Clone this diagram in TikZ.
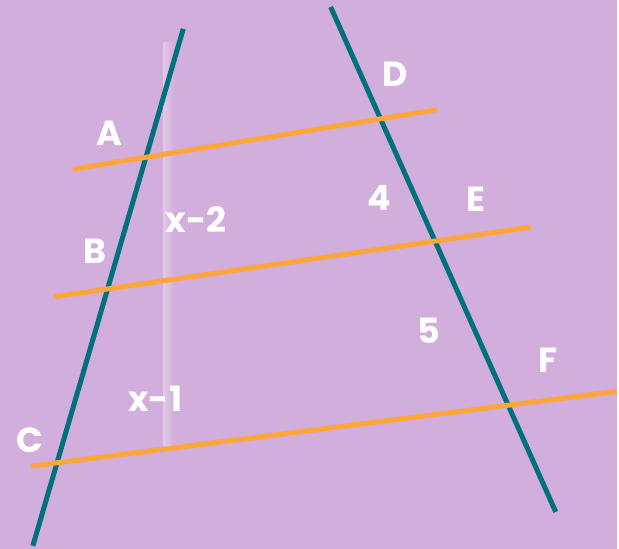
\documentclass[tikz,border=0pt]{standalone}
\usepackage{fontspec}
\setmainfont{Poppins}
\definecolor{bgPurple}{HTML}{D2AEDC}
\definecolor{lineTeal}{HTML}{00717A}
\definecolor{lineOrange}{HTML}{FDA63A}
\begin{document}
\begin{tikzpicture}[x=1pt, y=-1pt,
    transversal/.style={draw=lineTeal, line width=5pt},
    parallel/.style={draw=lineOrange, line width=5pt},
    lbl/.style={text=white, font=\fontsize{35}{40}\selectfont\bfseries, inner sep=0pt},
  ]
  % background (also fixes the bounding box, 1px = 1pt)
  \fill[bgPurple] (0,0) rectangle (619,551);
  % faint highlight strip behind everything
  \shade[left color=white!32!bgPurple, right color=bgPurple] (164,43) rectangle (175,448);

  % end points of the two transversals
  \coordinate (tealLtop) at (184,29);  \coordinate (tealLbot) at (33,548);
  \coordinate (tealRtop) at (332,7);   \coordinate (tealRbot) at (558,514);
  % end points of the three parallels
  \coordinate (par1L) at (73,170);     \coordinate (par1R) at (439,110);
  \coordinate (par2L) at (54,298);     \coordinate (par2R) at (533,228);
  \coordinate (par3L) at (31,468);     \coordinate (par3R) at (619,393);

  % transversals below, parallels on top
  \draw[transversal] (tealLtop) -- (tealLbot);
  \draw[transversal] (tealRtop) -- (tealRbot);
  \draw[parallel] (par1L) -- (par1R);
  \draw[parallel] (par2L) -- (par2R);
  \draw[parallel] (par3L) -- (par3R);

  % point labels
  \node[lbl] (labA) at (110,134) {A};
  \node[lbl] (labB) at (95,252) {B};
  \node[lbl] (labC) at (30,442) {C};
  \node[lbl] (labD) at (397,75) {D};
  \node[lbl] (labE) at (478,200) {E};
  \node[lbl] (labF) at (550,362) {F};

  % segment lengths
  \node[lbl] (lenAB) at (197,220) {x-2};
  \node[lbl] (lenBC) at (156,400) {x-1};
  \node[lbl] (lenDE) at (381,199) {4};
  \node[lbl] (lenEF) at (431,332) {5};
\end{tikzpicture}
\end{document}
